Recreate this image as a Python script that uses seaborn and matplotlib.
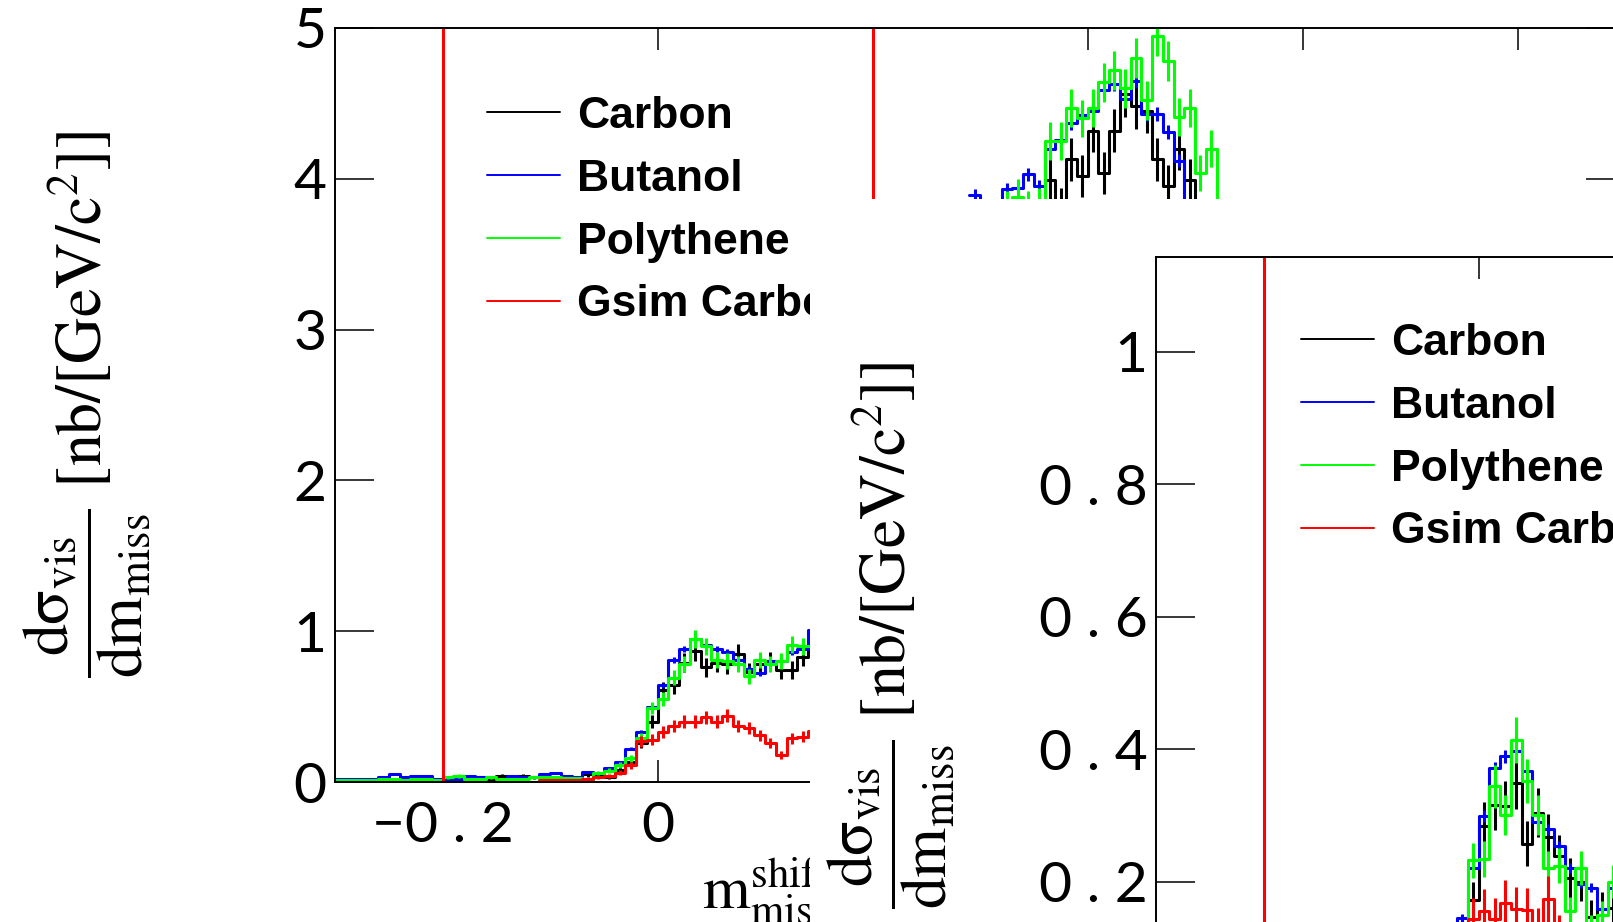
import numpy as np
import seaborn as sns
import matplotlib
matplotlib.use('Agg')
import matplotlib.pyplot as plt
from matplotlib.lines import Line2D

# all histograms use 0.01 wide bins on the m_miss^shift axis
bin_w = 0.01

series = ['Carbon', 'Butanol', 'Polythene', 'Gsim Carbon']
colors = ['#000000', '#0000ff', '#00ff00', '#ff0000']
cut_lines = [-0.2, 0.2]

# canvas 1 (back), lower window: bins -0.30 .. 0.15
c1_lo_start = -0.30
c1_lo_carbon = [0.01, 0.01, 0.01, 0.01, 0.01, 0.01, 0.02, 0.01, 0.02, 0.01, 0.03, 0.02, 0.03, 0.03, 0.02,
                0.04, 0.02, 0.04, 0.03, 0.03, 0.02,
                0.035, 0.024, 0.05, 0.04, 0.035, 0.08, 0.13, 0.26, 0.40, 0.61, 0.64, 0.79, 0.87, 0.76,
                0.79, 0.78, 0.85, 0.73, 0.78, 0.80, 0.74, 0.74, 0.83, 0.88]
c1_lo_butanol = [0.02, 0.02, 0.02, 0.02, 0.03, 0.05, 0.03, 0.04, 0.04, 0.02, 0.02, 0.02, 0.04, 0.03, 0.03,
                 0.02, 0.04, 0.03, 0.03, 0.05, 0.06,
                 0.042, 0.035, 0.069, 0.058, 0.09, 0.13, 0.22, 0.33, 0.50, 0.64, 0.81, 0.88, 0.95, 0.91,
                 0.88, 0.86, 0.81, 0.75, 0.72, 0.80, 0.80, 0.86, 0.88, 1.01]
c1_lo_polythene = [0.01, 0.01, 0.01, 0.01, 0.02, 0.02, 0.01, 0.02, 0.02, 0.01, 0.03, 0.04, 0.02, 0.02, 0.03,
                   0.02, 0.02, 0.02, 0.03, 0.03, 0.03,
                   0.024, 0.024, 0.013, 0.058, 0.075, 0.113, 0.157, 0.29, 0.49, 0.55, 0.69, 0.78, 0.95, 0.90,
                   0.81, 0.80, 0.78, 0.70, 0.81, 0.78, 0.80, 0.91, 0.90, 0.90]
c1_lo_gsim = [0.0, 0.0, 0.0, 0.0, 0.0, 0.0, 0.0, 0.0, 0.0, 0.0, 0.0, 0.0, 0.0, 0.0, 0.0,
              0.0, 0.0, 0.0, 0.0, 0.01, 0.01,
              0.01, 0.01, 0.02, 0.03, 0.04, 0.06, 0.11, 0.27, 0.28, 0.33, 0.37, 0.40, 0.40, 0.43,
              0.40, 0.44, 0.37, 0.36, 0.31, 0.26, 0.18, 0.29, 0.30, 0.34]

# canvas 1, peak window: bins 0.29 .. 0.53 (only the part above ~3.9 is not covered)
c1_pk_start = 0.29
c1_pk_carbon = [3.6, 3.6, 3.6, 3.6, 3.6, 3.65, 3.7, 3.99, 3.8, 4.13, 4.02, 4.32, 4.04, 4.32, 4.56,
                4.48, 4.45, 4.13, 3.95, 4.20, 3.99, 3.7, 3.6, 3.5]
c1_pk_butanol = [3.89, 3.8, 3.8, 3.93, 3.94, 4.03, 3.95, 4.20, 4.26, 4.37, 4.42, 4.45, 4.59, 4.63, 4.53,
                 4.65, 4.43, 4.43, 4.31, 4.12, 3.8, 3.6, 3.6, 3.6]
c1_pk_polythene = [3.7, 3.7, 3.75, 3.8, 3.88, 3.8, 3.82, 4.25, 4.25, 4.47, 4.40, 4.47, 4.64, 4.72, 4.60,
                   4.80, 4.52, 4.95, 4.78, 4.41, 4.47, 4.04, 4.20, 3.75]

# canvas 2 (front), window: bins -0.03 .. 0.13
c2_start = -0.03
c2_carbon = [0.09, 0.12, 0.172, 0.284, 0.316, 0.314, 0.349, 0.257, 0.304, 0.267, 0.238, 0.205, 0.200,
             0.146, 0.158, 0.16]
c2_butanol = [0.11, 0.145, 0.221, 0.299, 0.371, 0.389, 0.398, 0.367, 0.290, 0.279, 0.254, 0.220, 0.197,
              0.191, 0.158, 0.19]
c2_polythene = [0.10, 0.12, 0.232, 0.234, 0.344, 0.300, 0.414, 0.352, 0.300, 0.221, 0.224, 0.155, 0.221,
                0.13, 0.15, 0.20]
c2_gsim = [0.08, 0.10, 0.143, 0.155, 0.143, 0.168, 0.158, 0.157, 0.13, 0.173, 0.12, 0.11, 0.11,
           0.10, 0.10, 0.10]

# rough poisson-like error size per series
c1_err = [0.07, 0.022, 0.06, 0.067]
c2_err = [0.067, 0.016, 0.055, 0.085]

x_ticks = [-0.2, 0, 0.2, 0.4, 0.6, 0.8]
x_ticklabels = ['\u22120 . 2', '0', '0 . 2', '0 . 4', '0 . 6', '0 . 8']
c1_yticks = [0, 1, 2, 3, 4, 5]
c1_yticklabels = ['0', '1', '2', '3', '4', '5']
c2_yticks = [0, 0.2, 0.4, 0.6, 0.8, 1.0]
c2_yticklabels = ['0', '0 . 2', '0 . 4', '0 . 6', '0 . 8', '1']

ylab = r'$\dfrac{\mathrm{d\sigma}_{\mathrm{vis}}}{\mathrm{dm}_{\mathrm{miss}}}\ [\mathrm{nb/[GeV/c^{2}]}]$'
xlab = r'$\mathrm{m}_{\mathrm{miss}}^{\mathrm{shift}}\ [\mathrm{GeV/c^{2}}]$'

sns.set_style('ticks')
plt.rcParams['font.family'] = ['Lato', 'DejaVu Sans']
plt.rcParams['mathtext.fontset'] = 'stix'
plt.rcParams['text.color'] = 'black'
plt.rcParams['axes.labelcolor'] = 'black'
plt.rcParams['axes.edgecolor'] = 'black'
plt.rcParams['axes.linewidth'] = 1.4

W, H = 1613, 922
fig = plt.figure(figsize=(W / 100, H / 100), dpi=100)
fig.patch.set_facecolor('white')


def px_rect(left, top, width, height):
    return [left / W, 1 - (top + height) / H, width / W, height / H]


def draw_hist(ax, start, vals, color, scale):
    vals = np.asarray(vals, dtype=float)
    n = len(vals)
    centers = start + bin_w * (np.arange(n) + 0.5)
    sns.histplot(x=centers, weights=vals, bins=n, binrange=(start, start + n * bin_w),
                 element='step', fill=False, color=color, linewidth=2.2, ax=ax)
    ax.errorbar(centers, vals, yerr=scale * np.sqrt(vals), fmt='none', ecolor=color,
                elinewidth=2.2, capsize=0)


def style_axes(ax, yticks, yticklabels, ylim):
    ax.set_xlim(-0.3, 0.9)
    ax.set_ylim(*ylim)
    ax.set_xticks(x_ticks, labels=x_ticklabels)
    ax.set_yticks(yticks, labels=yticklabels)
    ax.tick_params(axis='x', direction='in', top=True, bottom=True, length=16, width=1.1,
                   labelsize=41, pad=14, colors='black')
    ax.tick_params(axis='y', direction='in', left=True, right=True, length=28, width=1.1,
                   labelsize=41, pad=6, colors='black')
    for s in ax.spines.values():
        s.set_visible(True)
    ax.set_facecolor('white')


def add_legend(ax, left_px, top_px):
    handles = [Line2D([], [], color=c, lw=1.4) for c in colors]
    ax.legend(handles, series, loc='upper left', bbox_to_anchor=(left_px / W, 1 - top_px / H),
              bbox_transform=fig.transFigure, frameon=False, borderpad=0, borderaxespad=0,
              handlelength=1.65, handletextpad=0.38, labelspacing=0.49,
              prop={'family': 'Liberation Sans', 'weight': 'bold', 'size': 32})


def place_ylabel(ax, x_frac):
    ax.set_ylabel(ylab, fontsize=46)
    ax.yaxis.set_label_coords(x_frac, 0.5)
    ax.yaxis.label.set_va('center')
    ax.yaxis.label.set_ha('center')


# canvas 1 (behind)
ax1 = fig.add_axes(px_rect(335, 28, 1290, 754), zorder=0)
c1_lo = [c1_lo_carbon, c1_lo_butanol, c1_lo_polythene, c1_lo_gsim]
for vals, col, sc in zip(c1_lo, colors, c1_err):
    draw_hist(ax1, c1_lo_start, vals, col, sc)
c1_pk = [c1_pk_carbon, c1_pk_butanol, c1_pk_polythene]
for vals, col, sc in zip(c1_pk, colors, c1_err):
    draw_hist(ax1, c1_pk_start, vals, col, sc)
for xc in cut_lines:
    ax1.axvline(xc, color='#ff0000', lw=2.2)
style_axes(ax1, c1_yticks, c1_yticklabels, (0, 5))
place_ylabel(ax1, (87 - 335) / 1290)
ax1.set_xlabel(xlab, fontsize=44)
ax1.xaxis.set_label_coords((702 - 335) / 1290, -(908 - 782) / 754)
ax1.xaxis.label.set_ha('left')
ax1.xaxis.label.set_va('baseline')
add_legend(ax1, 487, 96)

# blank canvas that the second pad sits on
bg2 = fig.add_axes(px_rect(810, 199, W - 810, H - 199), zorder=1)
bg2.set_facecolor('white')
bg2.set_xticks([])
bg2.set_yticks([])
for s in bg2.spines.values():
    s.set_visible(False)

# canvas 2 (front)
ax2 = fig.add_axes(px_rect(1156, 257, 1290, 757), zorder=2)
c2 = [c2_carbon, c2_butanol, c2_polythene, c2_gsim]
for vals, col, sc in zip(c2, colors, c2_err):
    draw_hist(ax2, c2_start, vals, col, sc)
for xc in cut_lines:
    ax2.axvline(xc, color='#ff0000', lw=2.2)
style_axes(ax2, c2_yticks, c2_yticklabels, (0, 1.1435))
place_ylabel(ax2, (891 - 1156) / 1290)
ax2.set_xlabel('')
add_legend(ax2, 1301, 323)

fig.savefig('out.png', dpi=100)
plt.close()
